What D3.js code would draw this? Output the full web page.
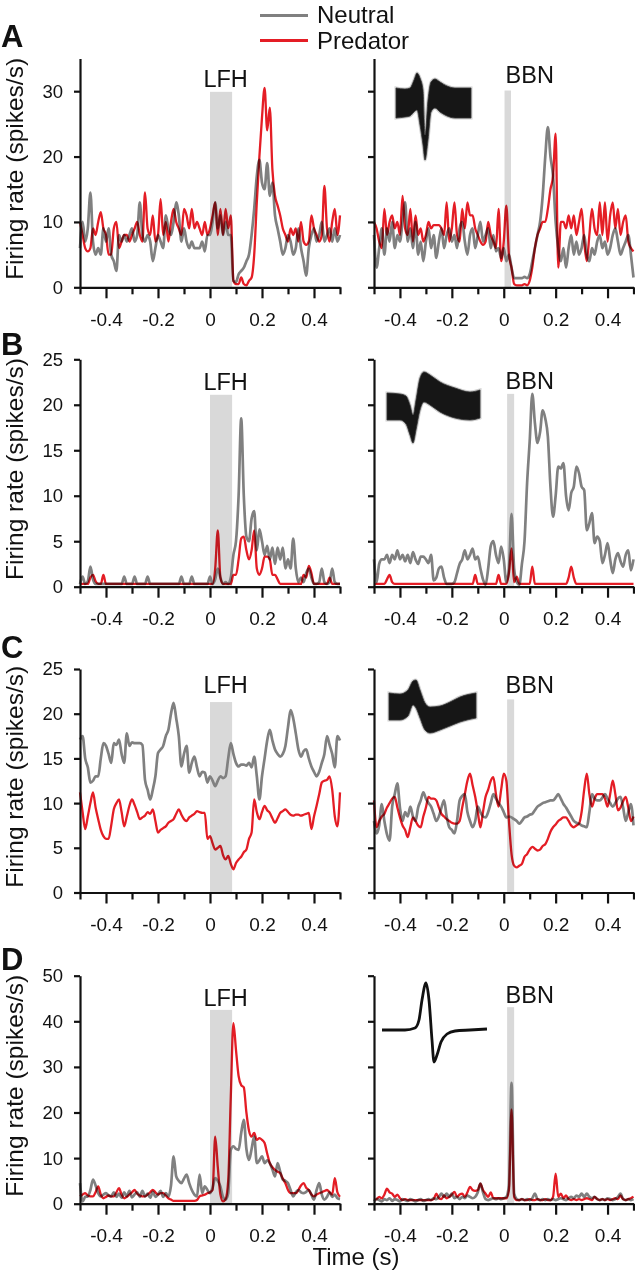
<!DOCTYPE html>
<html><head><meta charset="utf-8">
<script src="https://cdn.jsdelivr.net/npm/d3@7"></script>
<style>
html,body{margin:0;padding:0;background:#fff;}
svg{display:block;font-family:"Liberation Sans",Arial,Helvetica,sans-serif;}
</style></head><body>
<svg id="chart" width="635" height="1280"></svg>
<script>
// ---------------- DATA ----------------
// time bins: -0.50 s ... +0.50 s in 10 ms steps (101 bins)
const binStart = -0.5, binStep = 0.01, binCount = 101;
const seriesNames = ["Neutral", "Predator"];
const stimulusNames = ["LFH", "BBN"];
const panelLetters = ["A", "B", "C", "D"];
const xMajorTicks = [-0.4, -0.2, 0, 0.2, 0.4];
const xMinorTicks = [-0.5, -0.3, -0.1, 0.1, 0.3, 0.5];
const yMaxes = [35, 25, 25, 50];
const yTicksA = [0, 10, 20, 30];
const yTicksB = [0, 5, 10, 15, 20, 25];
const yTicksC = [0, 5, 10, 15, 20, 25];
const yTicksD = [0, 10, 20, 30, 40, 50];
// stimulus windows (s) and shaded bar heights (spikes/s)
const lfhWindow = [0, 0.085];
const bbnWindowA = [0.003, 0.028];
const bbnWindow = [0.013, 0.04];
const lfhShadeTop = [29.9, 21.1, 21.3, 42.5];
const bbnShadeTop = [30.1, 21.2, 21.6, 43.1];

// Panel A
const aLfhNeutral = [6,10,7,9,14.5,7,5,6,5,9, 7,9,5,4,2.5,8,7,8,7,8, 9,7,8,13,8,7,8,7,4,6, 8,7,6,11,9,8,10,13,11,7, 9,7,6,7,6,6,6,7,5.5,8,
  8,10,13,9,11,8,10,8,8,1, 0.8,2,2.5,3,4,5,8,12,17,19.5, 16,15,19,14,16,11,9,7,5,6, 8,7,5,6,9,6,4,1.8,6,8, 9,7,8,10,7,8,9,7,9,7, 8];
const aLfhPredator = [10,8,6,5.5,6,9,8,10,11.5,9, 8,5,5,9,10,6,7,8,8,7, 8,9,10,8,7,14.5,9,8,11,7, 8,13.5,8,10,7,10,12,10,9,8, 12,11,9,12,9,10,9,8,10,8,
  9,11,13,8,12,8,12,9,11,1, 0.5,0.5,1.5,0.5,0.3,1,1.5,5,13,20, 26,30.5,24,27.5,18,14,12.5,11,9,8, 7,9,8,9,7,10,7,6.5,7,11, 9,8,7,8,15.5,9,7,10,12,8, 11];
const aBbnNeutral = [8,3,6,9,5,9,7,10,6,8, 7,10,13,7,9,6,10,5,7,4, 7,9,6,8,4.5,7,9,6,8,9, 7,8,6,9,10,7,5,8,9,6, 8,10,7,8,9,6,8,5.5,6,4.5,
  6,4,5,3,1.4,1.4,1.4,1.4,1.6,1.4, 2,4,6,8,10,14,20,24.5,20,17, 10,6,4,6,3,6,8,5,7,5, 6,8,5,4,6,5,7,8,6,7, 5,6,8,9,7,5,6,7,8,5, 1.5];
const aBbnPredator = [10,9,7,6,12,8,10,11,9,10, 8,14,9,8,12,7,11,8,9,7, 8,10,9,9.5,9.5,9.5,9,8,13,7, 9,13,8,7,12,9,13,11,11,9, 8,7,6.5,7,10,8,7,6,12,4,
  7,12.5,5,3,0.5,0.3,0.3,0.3,0.5,0.3, 1,3,6,8,9,10,10,12,15,17, 23.5,3,10,10,9,11,9,11,8,10, 12,7,4,8,12,9,8,13,8,13, 7,11,13,9,12,8,10,11,7,6, 5.5];

// Panel B
const bLfhNeutral = [0.3,1.1,0.3,0.6,2.2,0.8,0.3,0.3,0.3,0.3, 0.3,0.3,0.3,0.3,0.3,0.3,0.3,1.1,0.3,0.3, 0.3,1.1,0.3,0.3,0.3,0.3,1.1,0.3,0.3,0.3, 0.3,0.3,0.3,0.3,0.3,0.3,0.3,0.3,0.3,1.1, 0.3,0.3,0.3,1.1,0.3,0.3,0.3,0.3,0.3,0.3,
  1.1,0.3,0.8,2,1,0.3,0.5,0.3,1,3.5, 5,10,18.5,10,5.5,5,7.5,8.3,4,6.3, 5,3.5,4.5,3,4.3,2.5,4.3,3,4.3,2, 3,2,5.3,2,0.5,1,0.5,1.5,2,1, 0.3,0.3,0.5,2,0.5,0.3,0.5,2,0.5,0.3, 0.3];
const bLfhPredator = [0.3,0.3,0.3,0.3,1,1.3,0.6,0.3,0.3,1.3, 0.3,0.3,0.3,0.3,0.3,0.3,0.3,0.3,0.3,0.3, 0.3,0.3,0.3,0.3,0.3,0.3,0.3,0.3,0.3,0.3, 0.3,0.3,0.3,0.3,0.3,0.3,0.3,0.3,0.3,0.3, 0.3,0.3,0.3,0.3,0.3,0.3,0.3,0.3,0.3,0.3,
  0.3,0.3,2,6.2,1,0.3,0.3,0.3,0.3,1.3, 1.3,3,5.3,5.5,4,3,4,6.2,2,1.3, 2,3.3,3.3,3,1.3,1.3,0.8,0.3,0.3,0.3, 0.3,0.3,0.3,0.3,0.3,0.3,1.3,1,2.3,1.5, 0.3,0.3,0.3,0.3,0.3,0.3,1,0.3,0.3,0.3, 0.3];
const bBbnNeutral = [3,0.5,2.5,3,3,3.5,2.6,3.5,3,4, 3,3.5,2.8,3.5,2.6,3.8,3,2.5,3.3,3.3, 3,2.6,3.5,0.7,1,2,2.2,1,0.3,0.3, 0.3,0.5,1.5,2.5,3,4,3,3.5,4.2,3, 3.3,2,0.8,0.2,2,4.5,5,3.5,2.6,4.4,
  3,0.5,2,8,2,0.5,0.2,2.5,5,11.4, 16,21.2,18,15.8,17,19.4,18.5,16.5,11,7.7, 10,13.2,13,13.6,10,8.4,10.3,11,13.2,12.5, 11,10.6,6.2,7,8.1,4.8,5.5,5,2.6,3.5, 4.8,3,1.5,3,3.7,2.8,2.2,3.5,4,1.8, 3];
const bBbnPredator = [0.3,0.3,0.3,0.3,0.3,0.8,1.3,0.5,0.3,0.3, 0.3,0.3,0.3,0.3,0.3,0.3,0.3,0.3,0.3,0.3, 0.3,0.3,0.3,0.3,0.3,0.3,0.3,0.3,0.3,0.3, 0.3,0.3,0.3,0.3,0.3,0.3,0.3,0.3,0.3,1.3, 0.3,0.3,0.3,0.3,0.3,0.3,0.3,0.3,1.3,0.3,
  0.3,0.3,1.5,4.2,0.5,1.1,0.3,0.3,0.3,0.3, 0.3,2.2,0.3,0.3,0.3,0.3,0.3,0.3,0.3,0.3, 0.3,0.3,0.3,0.3,0.3,1,2.2,1,0.3,0.3, 0.3,0.3,0.3,0.3,0.3,0.3,0.3,0.3,0.3,0.3, 0.3,0.3,0.3,0.3,0.3,0.3,0.3,0.3,0.3,0.3, 0.3];

// Panel C
const cLfhNeutral = [17.1,17.5,15,14,12.3,12.5,13,13,15,16.7, 16.4,15.5,14.5,16.7,16.5,17.1,15.5,14.5,17.8,16.4, 16.8,16.7,16.7,16.7,16.5,12.6,11.5,10.4,11.5,13, 15.6,16,16.4,17.5,18.2,20,21.2,19.5,17.5,14.1, 15.5,16.4,13.4,14.5,15.2,14,13,13.5,13.4,12.3,
  13,12.5,11.9,12.5,13,12.8,13,15,16.7,15.5, 14.5,14.1,14.3,14.3,14.2,14.5,14,15.2,13,10.4, 13,15,17,18.2,17,16,15.5,15.2,15.5,16.4, 18.5,20.4,19.5,17.8,16,15.2,15.8,16,15,14.1, 13.5,13,13.5,14.5,15.5,17.5,16.5,15.5,14,17.5, 17];
const cLfhPredator = [11.2,9,7.1,8.5,10,11.2,9.5,8.2,7,6.3, 6,6,7.5,9.3,10,10.4,9,7.4,8.5,9.7, 10.4,9.8,9,8.2,8.4,8.6,9,8.8,9.3,8, 6.7,7,7.2,7.4,7.8,8,8.2,8.8,9.3,8.7, 8.2,8,8.4,8.6,8.8,9.1,9,8.9,8.9,6,
  6.3,5.5,4.8,5,5.2,4.2,3.7,4.1,3.2,2.6, 3.3,3.7,4,4.5,4.8,6,6.7,10.4,9,8.2, 9,9.7,9.2,8.9,8.3,7.8,8.3,8.9,9.1,9.3, 9,8.7,8.6,8.7,8.7,8.6,8.7,8.8,8.9,7.1, 8.5,9.7,11,12.3,12.5,12.6,13,11.5,8.5,7.4, 11.2];
const cBbnNeutral = [8,6.6,7.5,9.9,8,6.5,5.8,9.6,11,12.2, 9.5,8,9,8.5,9.6,8.5,8,9.5,10.3,11.2, 10.5,10,9.6,8.8,8,8.5,9.5,10.3,8.5,7.3, 7,6.6,8,10.3,10.8,11,9,8,7.3,8, 9.6,9,8.5,8.4,9,10,11,10.5,10,9.6,
  9,8.4,8.5,8.4,8.2,8,7.7,8,8.4,8.5, 8.7,8.8,9.2,9.6,9.8,10,10.1,10.2,10.3,10.3, 10.6,11,10.5,9.9,9.5,9,8.5,8,7.8,7.7, 7.5,7.4,7.3,9,11,10.5,10.3,10.3,10.6,11, 10.5,10,9.6,10,10.5,10.7,9.5,8,9,9.9, 7.5];
const cBbnPredator = [10.3,7.3,8,8.5,8.8,9.5,10,10.5,10.7,9.5, 8.4,7.5,7,6.2,7.3,8.4,8,7.5,7.3,8.5, 9.5,10.7,10.5,10.5,10.3,9.5,8.8,8.5,8.2,8, 7.8,7.7,7.7,8,9.5,11,12.5,13.3,12,10.7, 9,7.3,9,10.7,11.5,12.5,12.9,11,9.6,11.5,
  13.3,12.5,8,4.3,3,2.8,3,3.2,4,4.3, 4.8,5.1,4.9,4.7,4.8,5.2,5.4,6,6.8,7.3, 7.6,8,8.2,8.4,8.4,8,7.5,7.3,7.5,7.7, 9,11.5,13.3,11,9.6,10.5,11,11,11,10.5, 9.6,11,12.5,11,9.2,9.5,10.2,10.7,9.5,8, 8.5];

// Panel D
const dLfhNeutral = [4.5,0.5,1.5,1.6,3,5.3,4,2.3,1.6,2, 2.3,1.8,1.6,2.5,1.5,2.2,1.3,2.5,1.6,2.8, 1.4,2,2.5,1.5,2.8,1.6,2.2,1.3,2.6,1.5, 2,2.8,1.5,2.3,1.6,4,10.4,6,5,4.5, 5.5,6.4,4.5,3,2,1.6,6.4,2.3,3.8,3,
  2.3,3.5,5.6,5,3.8,1.5,0.9,2.3,11.8,12.6, 12,11.8,15.5,18.4,12,9.6,12,14.7,8.9,9.5, 10.4,8.9,9.5,8.9,7.5,6,8.9,7,5.3,5, 4.5,3,1.6,2.5,3,2.5,2.3,2.6,3,2, 0.9,3,4.5,2,0.9,1.5,2.5,1.5,2,1.2, 1];
const dLfhPredator = [1.6,2,2.3,1.8,1.6,1.6,2.5,3.8,2,1.2, 1.5,1.8,1.6,1.6,2.5,3.4,2,1.2,1.5,2, 2.5,3,2.2,1.8,1.6,1.6,2,2.5,3,2.5, 2,2.3,2.3,1.8,1.2,0.9,0.6,0.6,0.6,0.6, 0.6,0.6,0.6,0.6,0.6,0.8,1.6,1.8,2,2.3,
  2.5,3,14.7,8,2,0.5,1,5,23.5,39.6, 33.7,28,26,25.5,20,16,14.7,15.5,14,14.4, 14,13.3,11,8.9,8,7.4,7,6.7,5.5,4.5, 3,2.3,2.3,2.3,3,4,4.5,3.5,3,2, 1.6,2,2.3,2.5,2.8,3,2.5,2,5.6,2.5, 1.5];
const dBbnNeutral = [0.5,1,0.8,0.5,1,0.8,1.2,0.6,1,0.8, 0.5,1,0.8,0.6,1,0.8,0.5,0.8,1,0.6, 0.8,1,0.8,1.2,1,1.5,2.2,1.5,2.2,1.5, 2.2,1.2,1.5,1,1.5,1.2,1.8,1.5,1.2,1.5, 2.5,4.4,2.5,1,0.8,1,1.2,1,1.2,1,
  1.2,1.5,4,26.5,2.2,1,0.8,1,0.8,1, 0.8,1.2,2.2,1,0.8,1,0.8,1,0.8,1, 0.8,1,1.2,1,0.8,1.2,1.5,1.2,1.8,1.5, 2.2,1.5,2.2,1.5,1.2,1.5,1,0.8,1,0.8, 1.2,1,0.8,1,1.5,2.2,1,0.8,1,0.8, 1];
const dBbnPredator = [0.8,1,1.5,1.2,2,3.3,2.5,2.2,1.5,2, 1.2,0.8,1,0.8,0.8,0.8,0.8,0.8,0.8,0.8, 0.8,0.8,0.8,1,2.2,1.2,1,1.8,1.2,1.5, 2,2.6,1.5,2,2.2,1.5,2.5,3.7,3,2.8, 3,4.4,3,2.2,1.5,2.5,1.2,1.2,1.2,1.2,
  1.2,1.2,3,20.7,1.5,0.8,0.8,1,0.8,0.8, 1,0.8,0.8,1,0.8,0.8,1,0.8,0.8,1.5, 6.6,1.5,2.2,1.2,1.8,1,0.8,1,0.8,1, 0.8,1,1.2,1,0.8,1.5,1,0.8,1,0.8, 1,0.8,1,1.2,1,1.8,1,0.8,1,1.2, 1.5];

// Spike waveform insets (sample index, upper / lower envelope, arbitrary units)
const waveASample = [0,9,14,18,21,24,27,29,32,35,39,44,51,59,75];
const waveAHigh   = [15,14,15,23,30,25,13,-32,3,21,24,21,17,15,15];
const waveALow    = [-15,-14,-13,-9,-7,-22,-42,-57,-37,-9,-5,-9,-13,-15,-15];
const waveBSample = [0,13,19,23,26,29,33,37,43,53,68,83,93];
const waveBHigh   = [13.5,12.5,10.5,1.5,-8.5,6.5,28.5,34.5,31.5,24.5,18.5,14.5,16.5];
const waveBLow    = [-13.5,-13.5,-17.5,-28.5,-36.5,-23.5,-3.5,4.5,1.5,-5.5,-11.5,-13.5,-11.5];
const waveCSample = [0,11,19,24,27,31,36,41,51,61,71,87];
const waveCHigh   = [13.5,12.5,16.5,25.5,26.5,16.5,3.5,-0.5,0.5,4.5,9.5,13.5];
const waveCLow    = [-13.5,-13.5,-9.5,1.5,-1.5,-11.5,-23.5,-26.5,-23.5,-19.5,-15.5,-11.5];
const waveDSample = [0,23,33,37,40,44,47,50,52,55,59,65,73,88,105];
const waveDValue  = [0,0,2,10,30,47,30,-10,-32,-25,-12,-4,-1,0,1];

// ---------------- LAYOUT / STYLE ----------------
const W = 635, H = 1280;
const colRange = [[80, 340], [374, 633.5]];
const rowRange = [[58.5, 287.3], [359.3, 586.7], [669, 892.5], [975.7, 1203.7]];
const letterBase = [47, 355, 658, 970];
const stimLabelBase = [[87, 83], [390, 389], [693, 692.7], [1006, 1002.7]];
const insetOrigin = [[396, 103], [387, 406.5], [389, 706.5], [382, 1030]];
const neutralColor = "#808080", predatorColor = "#e41d25", shadeColor = "#d9d9d9";

const svg = d3.select("#chart");
svg.append("rect").attr("width", W).attr("height", H).attr("fill", "#fff");

const bins = d3.range(binCount).map(i => binStart + i * binStep);
const rowsData = [
  {yTicks: yTicksA, series: [[aLfhNeutral, aLfhPredator], [aBbnNeutral, aBbnPredator]]},
  {yTicks: yTicksB, series: [[bLfhNeutral, bLfhPredator], [bBbnNeutral, bBbnPredator]]},
  {yTicks: yTicksC, series: [[cLfhNeutral, cLfhPredator], [cBbnNeutral, cBbnPredator]]},
  {yTicks: yTicksD, series: [[dLfhNeutral, dLfhPredator], [dBbnNeutral, dBbnPredator]]}
];
const waves = [
  {s: waveASample, hi: waveAHigh, lo: waveALow},
  {s: waveBSample, hi: waveBHigh, lo: waveBLow},
  {s: waveCSample, hi: waveCHigh, lo: waveCLow}
];

rowsData.forEach((row, r) => {
  const y = d3.scaleLinear().domain([0, yMaxes[r]]).range([rowRange[r][1], rowRange[r][0]]);
  [0, 1].forEach(c => {
    const x = d3.scaleLinear().domain([-0.5, 0.5]).range(colRange[c]);
    const g = svg.append("g");
    // stimulus shading
    const win = c === 0 ? lfhWindow : (r === 0 ? bbnWindowA : bbnWindow);
    const top = c === 0 ? lfhShadeTop[r] : bbnShadeTop[r];
    g.append("rect")
      .attr("x", x(win[0])).attr("width", x(win[1]) - x(win[0]))
      .attr("y", y(top)).attr("height", y(0) - y(top))
      .attr("fill", shadeColor);
    g.append("text")
      .attr("x", c === 0 ? x(0.06) : x(0.1)).attr("y", stimLabelBase[r][c])
      .attr("text-anchor", "middle").attr("font-size", 23.5).attr("fill", "#111")
      .text(stimulusNames[c]);
    // inset waveform
    if (c === 1) {
      const [ox, oy] = insetOrigin[r];
      const sx = d3.scaleLinear().domain([0, 1]).range([ox, ox + 1]);
      const sy = d3.scaleLinear().domain([0, 1]).range([oy, oy - 1]);
      if (r < 3) {
        const w = waves[r];
        const pts = w.s.map((s, i) => ({s, hi: w.hi[i], lo: w.lo[i]}));
        const area = d3.area().x(d => sx(d.s)).y0(d => sy(d.lo)).y1(d => sy(d.hi)).curve(d3.curveMonotoneX);
        g.append("path").datum(pts).attr("d", area)
          .attr("fill", "none").attr("stroke", "#9a9a9a").attr("stroke-width", 3).attr("stroke-opacity", 0.45);
        g.append("path").datum(pts).attr("d", area)
          .attr("fill", "#161616").attr("stroke", "#333").attr("stroke-width", 0.8);
      } else {
        const pts = waveDSample.map((s, i) => ({s, v: waveDValue[i]}));
        g.append("path").datum(pts)
          .attr("d", d3.line().x(d => sx(d.s)).y(d => sy(d.v)).curve(d3.curveMonotoneX))
          .attr("fill", "none").attr("stroke", "#111").attr("stroke-width", 2.8);
      }
    }
    // lines
    const line = d3.line().x((d, i) => x(bins[i])).y(d => y(d)).curve(d3.curveMonotoneX);
    const [neu, pred] = row.series[c];
    g.append("path").datum(neu).attr("d", line)
      .attr("fill", "none").attr("stroke", neutralColor).attr("stroke-width", 2.7).attr("stroke-linejoin", "round");
    g.append("path").datum(pred).attr("d", line)
      .attr("fill", "none").attr("stroke", predatorColor).attr("stroke-width", 2.3).attr("stroke-linejoin", "round")
      .style("mix-blend-mode", "multiply");
    // y axis
    const ya = g.append("g").attr("transform", `translate(${colRange[c][0]},0)`)
      .call(d3.axisLeft(y).tickValues(row.yTicks).tickSize(6).tickPadding(11).tickSizeOuter(0)
        .tickFormat(c === 0 ? d3.format("d") : () => ""));
    // x axis major
    const xa = g.append("g").attr("transform", `translate(0,${y(0)})`)
      .call(d3.axisBottom(x).tickValues(xMajorTicks).tickSize(11).tickPadding(14).tickSizeOuter(0)
        .tickFormat(d => d === 0 ? "0" : String(d)));
    const xm = g.append("g").attr("transform", `translate(0,${y(0)})`)
      .call(d3.axisBottom(x).tickValues(xMinorTicks).tickSize(7).tickFormat(() => ""));
    xm.select(".domain").remove();
    [ya, xa, xm].forEach(a => {
      a.attr("font-family", null);
      a.selectAll("path,line").attr("stroke", "#111").attr("stroke-width", 2.2);
      a.selectAll("text").attr("fill", "#111");
    });
    ya.attr("font-size", 18.5);
    xa.attr("font-size", 19);
  });
  // y title
  const mid = (rowRange[r][0] + rowRange[r][1]) / 2 - 4;
  svg.append("text").attr("transform", `translate(23,${mid}) rotate(-90)`)
    .attr("text-anchor", "middle").attr("font-size", 24.5).attr("fill", "#111")
    .text("Firing rate (spikes/s)");
  // panel letter
  svg.append("text").attr("x", 1).attr("y", letterBase[r])
    .attr("font-size", 31).attr("font-weight", "bold").attr("fill", "#111")
    .text(panelLetters[r]);
});

// legend
const legendColors = [neutralColor, predatorColor];
const legendLineY = [15.5, 40.5], legendTextY = [22.5, 48.5];
seriesNames.forEach((n, i) => {
  svg.append("line").attr("x1", 260).attr("x2", 308).attr("y1", legendLineY[i]).attr("y2", legendLineY[i])
    .attr("stroke", legendColors[i]).attr("stroke-width", 3.2);
  svg.append("text").attr("x", 317).attr("y", legendTextY[i]).attr("font-size", 24).attr("fill", "#111").text(n);
});

// x title
svg.append("text").attr("x", 356).attr("y", 1265).attr("text-anchor", "middle")
  .attr("font-size", 24).attr("fill", "#111").text("Time (s)");
</script>
</body></html>
